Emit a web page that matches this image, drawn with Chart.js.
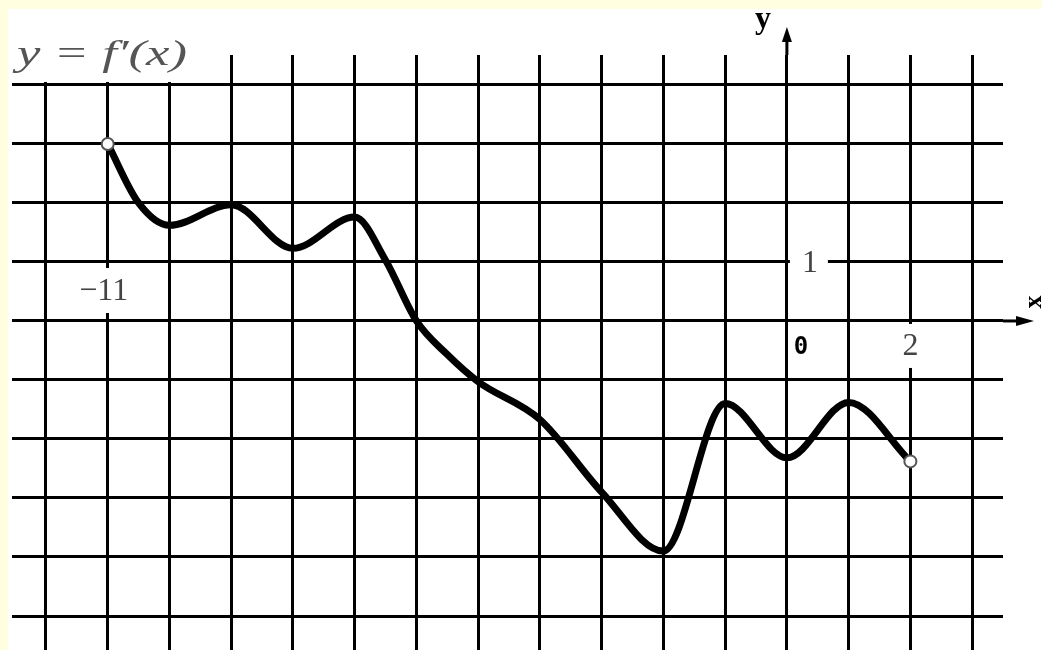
<!DOCTYPE html>
<html>
<head>
<meta charset="utf-8">
<script src="https://cdn.jsdelivr.net/npm/chart.js@4/dist/chart.umd.min.js"></script>
<style>
  html, body { margin: 0; padding: 0; }
  body { width: 1042px; height: 650px; background: #fffee0; position: relative; overflow: hidden; }
  #paper { position: absolute; left: 8px; top: 9px; right: 0; bottom: 0; background: #fff; }
  #chart { position: absolute; left: 0; top: 0; }
</style>
</head>
<body>
<div id="paper"></div>
<canvas id="chart" width="1042" height="660"></canvas>
<script>
const xValues = [-11, -10.5, -10, -9, -8, -7, -6.5, -6, -5.5, -5, -4, -3, -2, -1, 0, 1, 2];
const yValues = [3, 2.0, 1.62, 1.97, 1.23, 1.76, 1.03, 0, -0.57, -1.03, -1.67, -2.9, -3.9, -1.4, -2.32, -1.38, -2.38];
const xTickLabels = ["-11", "0", "2"];
const yTickLabels = ["1"];
const titulo = "y = f\u2032(x)";

const pontos = xValues.map((x, i) => ({ x: x, y: yValues[i] }));

const gridColor = (ctx) =>
  Number.isInteger(ctx.tick.value) ? "#000" : "rgba(0,0,0,0)";

// Eixos com setas, rótulos e a legenda da função
const eixosPlugin = {
  id: "eixos",
  beforeDatasetsDraw(chart) {
    const c = chart.ctx;
    const xs = chart.scales.x;
    const ys = chart.scales.y;
    const area = chart.chartArea;
    const x0 = xs.getPixelForValue(0);
    const y0 = ys.getPixelForValue(0);

    c.save();
    c.fillStyle = "#000";
    c.strokeStyle = "#000";
    c.lineWidth = 3;

    // eixo y prolongado + seta
    c.beginPath();
    c.moveTo(x0, area.top);
    c.lineTo(x0, 38);
    c.stroke();
    c.beginPath();
    c.moveTo(x0, 27);
    c.lineTo(x0 - 5, 42);
    c.lineTo(x0 + 5, 42);
    c.closePath();
    c.fill();

    // eixo x prolongado + seta
    c.beginPath();
    c.moveTo(area.right, y0);
    c.lineTo(1020, y0);
    c.stroke();
    c.beginPath();
    c.moveTo(1034, y0);
    c.lineTo(1016, y0 - 5);
    c.lineTo(1016, y0 + 5);
    c.closePath();
    c.fill();

    // caixas brancas por trás dos rótulos
    c.fillStyle = "#fff";
    c.fillRect(12, 9, 183, 73);
    const xm11 = xs.getPixelForValue(-11);
    c.fillRect(xm11 - 34, 268, 70, 45);
    const x2 = xs.getPixelForValue(2);
    c.fillRect(x2 - 14, y0 + 3, 28, 44);
    const y1 = ys.getPixelForValue(1);
    c.fillRect(x0 + 3, y1 - 22, 38, 26);

    // rótulos
    c.fillStyle = "#444";
    c.textAlign = "center";
    c.textBaseline = "middle";
    c.font = "32px 'Liberation Serif', serif";
    c.fillText("\u2212" + xTickLabels[0].slice(1), xm11 - 4, 292);
    c.fillText(xTickLabels[2], x2, y0 + 26);
    c.fillText(yTickLabels[0], x0 + 23, y1 + 2);
    c.fillStyle = "#000";
    c.font = "bold 24px 'DejaVu Sans Mono', monospace";
    c.fillText(xTickLabels[1], x0 + 14, y0 + 27);

    // nomes dos eixos
    c.font = "bold 32px 'Liberation Serif', serif";
    c.fillText("y", 763, 20);
    c.save();
    c.translate(1034, 302);
    c.rotate(-Math.PI / 2);
    c.font = "bold 26px 'Liberation Serif', serif";
    c.fillText("x", 0, 0);
    c.restore();

    // legenda y = f'(x), esticada até a largura original
    c.fillStyle = "#555";
    c.font = "italic 36px 'Liberation Serif', serif";
    c.textAlign = "left";
    c.textBaseline = "alphabetic";
    const w = c.measureText(titulo).width;
    c.save();
    c.translate(17, 65);
    c.scale(170 / w, 1);
    c.fillText(titulo, 0, 0);
    c.restore();

    c.restore();
  },
};

const chart = new Chart(document.querySelector("#chart"), {
  type: "line",
  data: {
    datasets: [
      {
        data: pontos,
        borderColor: "#000",
        borderWidth: 7,
        cubicInterpolationMode: "monotone",
        pointRadius: (ctx) =>
          ctx.dataIndex === 0 || ctx.dataIndex === pontos.length - 1 ? 6 : 0,
        pointBackgroundColor: "#fff",
        pointBorderColor: "#555",
        pointBorderWidth: 2,
      },
    ],
  },
  options: {
    responsive: false,
    animation: false,
    layout: { padding: { left: 12, top: 55, right: 39, bottom: 0 } },
    plugins: { legend: { display: false }, tooltip: { enabled: false } },
    scales: {
      x: {
        type: "linear",
        min: -12.55,
        max: 3.5,
        afterFit: (s) => { s.height = 0; },
        ticks: { display: false, stepSize: 1, includeBounds: false },
        border: { display: false },
        grid: { color: gridColor, lineWidth: 3, drawTicks: false },
      },
      y: {
        type: "linear",
        min: -5.61,
        max: 4.507,
        afterFit: (s) => { s.width = 0; },
        ticks: { display: false, stepSize: 1, includeBounds: false },
        border: { display: false },
        grid: { color: gridColor, lineWidth: 3, drawTicks: false },
      },
    },
  },
  plugins: [eixosPlugin],
});
</script>
</body>
</html>
